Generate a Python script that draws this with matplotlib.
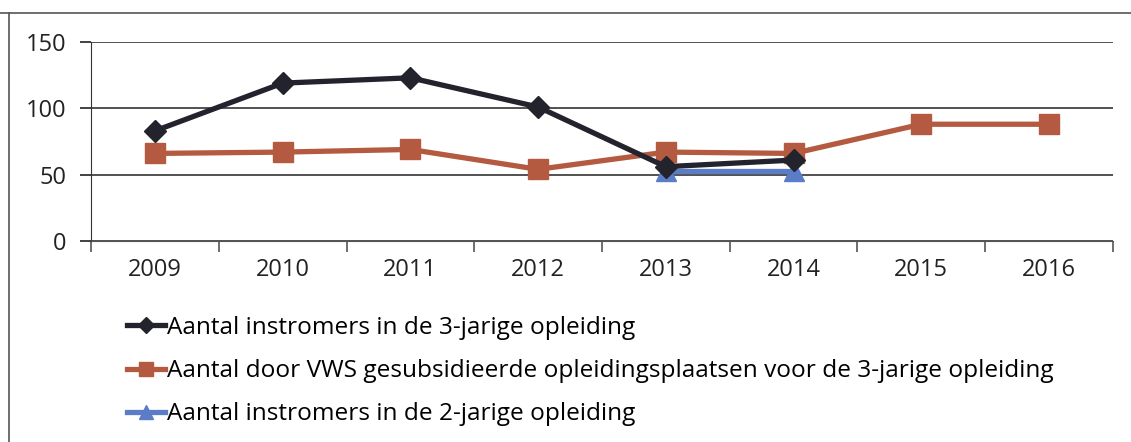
import matplotlib
matplotlib.use("Agg")
import matplotlib.pyplot as plt
from matplotlib.lines import Line2D

years = ["2009", "2010", "2011", "2012", "2013", "2014", "2015", "2016"]
instroom_3jarig = [83, 119, 123, 101, 56, 61]
plaatsen_vws = [66, 67, 69, 54, 67, 66, 88, 88]
instroom_2jarig = [53, 53]

labels = [
    "Aantal instromers in de 3-jarige opleiding",
    "Aantal door VWS gesubsidieerde opleidingsplaatsen voor de 3-jarige opleiding",
    "Aantal instromers in de 2-jarige opleiding",
]

plt.rcParams["font.family"] = ["Open Sans", "DejaVu Sans"]

fig = plt.figure(figsize=(11.31, 4.42), dpi=100)
ax = fig.add_axes([0.0805, 0.4548, 0.9035, 0.4502])

x = list(range(len(years)))
ax.plot(x[:len(instroom_3jarig)], instroom_3jarig, color="#23232d", lw=3.8,
        marker="D", markersize=11, label=labels[0], zorder=4)
ax.plot(x, plaatsen_vws, color="#b35a40", lw=3.8, marker="s", markersize=14,
        label=labels[1], zorder=3)
ax.plot(x[4:4 + len(instroom_2jarig)], instroom_2jarig, color="#5b7cc6", lw=3.8,
        marker="^", markersize=14, label=labels[2], zorder=2)

ax.set_xlim(-0.5, len(years) - 0.5)
ax.set_ylim(0, 150)
ax.set_yticks([0, 50, 100, 150])
ax.set_xticks(x)
ax.set_xticklabels(years)
ax.set_xticks([i - 0.5 for i in range(len(years) + 1)], minor=True)
ax.grid(axis="y", color="#333333", lw=1.2)
ax.set_axisbelow(True)

for s in ["top", "right"]:
    ax.spines[s].set_visible(False)
ax.spines["left"].set_color("#333333")
ax.spines["bottom"].set_color("#555555")
ax.tick_params(axis="y", length=8, width=1.2, labelsize=17, pad=10, colors="#222222")
ax.tick_params(axis="x", which="major", length=0, labelsize=17, pad=12, colors="#222222")
ax.tick_params(axis="x", which="minor", length=8, width=1.2, color="#555555")

leg = ax.legend(loc="upper left", bbox_to_anchor=(0.112, 0.285),
                bbox_transform=fig.transFigure, frameon=False, fontsize=17.6,
                handlelength=1.55, handletextpad=0.1, labelspacing=0.78,
                markerscale=0.7, borderaxespad=0, borderpad=0)

# frame lines of the clipped chart box
fig.add_artist(Line2D([0.0, 1.0], [1 - 13 / 442, 1 - 13 / 442], color="#555555", lw=1.2))
fig.add_artist(Line2D([9 / 1131, 9 / 1131], [0.0, 1 - 13 / 442], color="#555555", lw=1.2))

fig.savefig("out.png", dpi=100)
